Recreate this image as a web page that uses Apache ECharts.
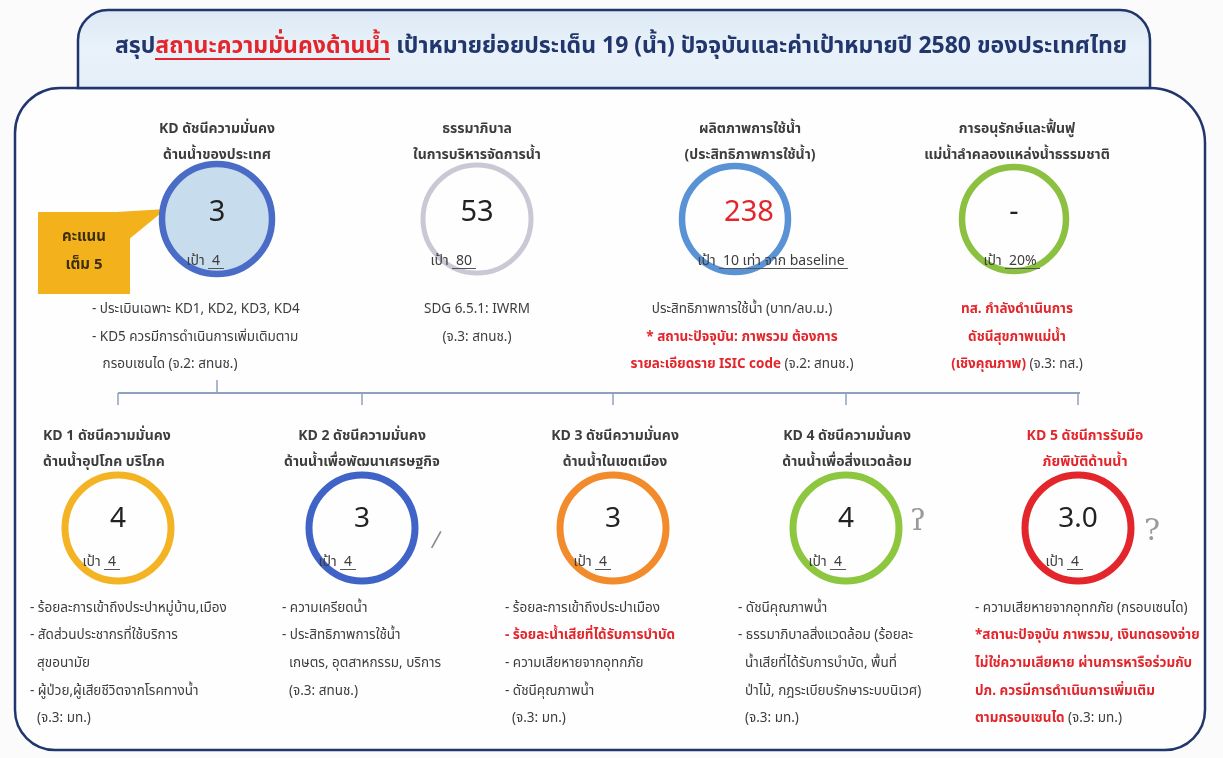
<!DOCTYPE html>
<html>
<head>
<meta charset="utf-8">
<script src="https://cdn.jsdelivr.net/npm/echarts@6/dist/echarts.min.js"></script>
<style>
  html, body { margin: 0; padding: 0; background: #fbfbfb; }
  #chart { width: 1223px; height: 758px; }
</style>
</head>
<body>
<div id="chart"></div>
<script>
// ข้อมูลแถวบน
const topTitles = [
  'KD ดัชนีความมั่นคง\nด้านน้ำของประเทศ',
  'ธรรมาภิบาล\nในการบริหารจัดการน้ำ',
  'ผลิตภาพการใช้น้ำ\n(ประสิทธิภาพการใช้น้ำ)',
  'การอนุรักษ์และฟื้นฟู\nแม่น้ำลำคลองแหล่งน้ำธรรมชาติ'
];
const topValues = ['3', '53', '238', '-'];
const topTargets = ['4', '80', '10 เท่า จาก baseline', '20%'];
const topNotes = [
  ['- ประเมินเฉพาะ KD1, KD2, KD3, KD4', '- KD5 ควรมีการดำเนินการเพิ่มเติมตาม', '   กรอบเซนได (จ.2: สทนช.)'],
  ['SDG 6.5.1: IWRM', '(จ.3: สทนช.)'],
  ['ประสิทธิภาพการใช้น้ำ (บาท/ลบ.ม.)', '{r|* สถานะปัจจุบัน: ภาพรวม ต้องการ}', '{r|รายละเอียดราย ISIC code} (จ.2: สทนช.)'],
  ['{r|ทส. กำลังดำเนินการ}', '{r|ดัชนีสุขภาพแม่น้ำ}', '{r|(เชิงคุณภาพ)} (จ.3: ทส.)']
];

// ข้อมูลแถวล่าง KD1-KD5
const kdTitles = [
  'KD 1 ดัชนีความมั่นคง\nด้านน้ำอุปโภค บริโภค',
  'KD 2 ดัชนีความมั่นคง\nด้านน้ำเพื่อพัฒนาเศรษฐกิจ',
  'KD 3 ดัชนีความมั่นคง\nด้านน้ำในเขตเมือง',
  'KD 4 ดัชนีความมั่นคง\nด้านน้ำเพื่อสิ่งแวดล้อม',
  'KD 5 ดัชนีการรับมือ\nภัยพิบัติด้านน้ำ'
];
const kdValues = ['4', '3', '3', '4', '3.0'];
const kdTargets = ['4', '4', '4', '4', '4'];
const kdNotes = [
  ['- ร้อยละการเข้าถึงประปาหมู่บ้าน,เมือง', '- สัดส่วนประชากรที่ใช้บริการ', '  สุขอนามัย', '- ผู้ป่วย,ผู้เสียชีวิตจากโรคทางน้ำ', '  (จ.3: มท.)'],
  ['- ความเครียดน้ำ', '- ประสิทธิภาพการใช้น้ำ', '  เกษตร, อุตสาหกรรม, บริการ', '  (จ.3: สทนช.)'],
  ['- ร้อยละการเข้าถึงประปาเมือง', '{r|- ร้อยละน้ำเสียที่ได้รับการบำบัด}', '- ความเสียหายจากอุทกภัย', '- ดัชนีคุณภาพน้ำ', '  (จ.3: มท.)'],
  ['- ดัชนีคุณภาพน้ำ', '- ธรรมาภิบาลสิ่งแวดล้อม (ร้อยละ', '  น้ำเสียที่ได้รับการบำบัด, พื้นที่', '  ป่าไม้, กฎระเบียบรักษาระบบนิเวศ)', '  (จ.3: มท.)'],
  ['- ความเสียหายจากอุทกภัย (กรอบเซนได)', '{r|*สถานะปัจจุบัน ภาพรวม, เงินทดรองจ่าย}', '{r|ไม่ใช่ความเสียหาย ผ่านการหารือร่วมกับ}', '{r|ปภ. ควรมีการดำเนินการเพิ่มเติม}', '{r|ตามกรอบเซนได} (จ.3: มท.)']
];

// ตำแหน่ง / สี
const FONT = "'Noto Sans Thai', Tahoma, 'Noto Sans', 'DejaVu Sans', sans-serif";
const GREY = '#3d3d3d';
const RED = '#e3262b';
const NAVY = '#22366e';
const topX = [217, 477, 735, 1014];
const topY = 219;
const topSize = [110, 108, 106, 104];
const topBorder = ['#4a6cc6', '#c9c8d4', '#5a92d6', '#8cc041'];
const topFill = ['#c7ddee', 'rgba(255,255,255,0)', 'rgba(255,255,255,0)', 'rgba(255,255,255,0)'];
const topValueColor = ['#222', '#222', RED, '#222'];
const topValueDx = [0, 0, 14, 0];
const topTargetDx = [-31, -47, -38, -31];
const kdX = [118, 362, 613, 846, 1078];
const kdY = 528;
const kdBorder = ['#f4b323', '#3f63c6', '#f28b2c', '#8dc63f', '#e3262b'];
const kdTargetDx = [-36, -44, -40, -38, -33];

const chart = echarts.init(document.getElementById('chart'));

// ภาพพื้นหลังสำหรับขีดเส้นใต้
function underline(color, h) {
  const c = document.createElement('canvas');
  c.width = 4; c.height = 40;
  const ctx = c.getContext('2d');
  ctx.fillStyle = color;
  ctx.fillRect(0, 40 - h, 4, h);
  return { image: c };
}

const noteRich = {
  r: { fill: RED, fontWeight: 'bold', fontSize: 13.5, lineHeight: 27.6, fontFamily: FONT }
};

function noteText(lines, x, y, align) {
  return {
    type: 'text', x: x, y: y, z: 10,
    style: {
      text: lines.join('\n'), fill: GREY, fontSize: 13.5, lineHeight: 27.6,
      fontFamily: FONT, align: align, verticalAlign: 'middle', rich: noteRich
    }
  };
}

function titleText(text, x, y, align, color) {
  return {
    type: 'text', x: x, y: y, z: 10,
    style: {
      text: text, fill: color, fontSize: 14, fontWeight: 'bold', lineHeight: 26,
      fontFamily: FONT, align: align, verticalAlign: 'middle'
    }
  };
}

const graphics = [
  // กรอบหลัก
  { type: 'rect', z: 1, shape: { x: 15, y: 88, width: 1190, height: 662, r: [45, 55, 40, 40] },
    style: { fill: '#fefefe', stroke: NAVY, lineWidth: 2.5 } },
  // แถบหัวเรื่อง
  { type: 'rect', z: 2, shape: { x: 78, y: 10, width: 1072, height: 78, r: [30, 30, 0, 0] },
    style: {
      fill: new echarts.graphic.LinearGradient(0, 0, 0, 1, [
        { offset: 0, color: '#dbe8f4' }, { offset: 0.5, color: '#e9f2fa' }, { offset: 1, color: '#e4eef8' }
      ]),
      stroke: NAVY, lineWidth: 2.5
    } },
  { type: 'text', z: 10, x: 621, y: 48,
    style: {
      text: '{n|สรุป}{u|สถานะความมั่นคงด้านน้ำ}{n| เป้าหมายย่อยประเด็น 19 (น้ำ) ปัจจุบันและค่าเป้าหมายปี 2580 ของประเทศไทย}',
      align: 'center', verticalAlign: 'middle',
      rich: {
        n: { fill: NAVY, fontSize: 23, fontWeight: 'bold', fontFamily: FONT, lineHeight: 34 },
        u: { fill: RED, fontSize: 23, fontWeight: 'bold', fontFamily: FONT, lineHeight: 34,
             backgroundColor: underline(RED, 3) }
      }
    } },
  // เส้นเชื่อม
  { type: 'polyline', z: 5, shape: { points: [[118, 393], [1080, 393]] }, style: { stroke: '#8ea2c0', lineWidth: 2 } },
  { type: 'polyline', z: 5, shape: { points: [[217, 380], [217, 393]] }, style: { stroke: '#8ea2c0', lineWidth: 1.5 } },
  // กล่อง คะแนนเต็ม 5
  { type: 'polygon', z: 6, shape: { points: [[100, 213], [128, 240], [166, 209]] }, style: { fill: '#f3b21b' } },
  { type: 'rect', z: 6, shape: { x: 38, y: 212, width: 92, height: 82 }, style: { fill: '#f3b21b' } },
  { type: 'text', z: 10, x: 84, y: 252,
    style: { text: 'คะแนน\nเต็ม 5', fill: '#3a2e0c', fontSize: 15, fontWeight: 'bold', lineHeight: 28,
             fontFamily: FONT, align: 'center', verticalAlign: 'middle' } },
  // เครื่องหมายเขียนมือ
  { type: 'text', z: 10, x: 436, y: 541, rotation: -0.2,
    style: { text: '/', fill: '#8a8a8a', fontSize: 22, fontFamily: 'DejaVu Serif', align: 'center', verticalAlign: 'middle' } },
  { type: 'text', z: 10, x: 918, y: 522,
    style: { text: 'ʔ', fill: '#9a9a9a', fontSize: 30, fontFamily: 'DejaVu Serif', align: 'center', verticalAlign: 'middle' } },
  { type: 'text', z: 10, x: 1152, y: 532,
    style: { text: '?', fill: '#9a9a9a', fontSize: 30, fontFamily: 'DejaVu Serif', align: 'center', verticalAlign: 'middle' } }
];

kdX.forEach(function (x) {
  graphics.push({ type: 'polyline', z: 5, shape: { points: [[x, 393], [x, 405]] }, style: { stroke: '#8ea2c0', lineWidth: 1.5 } });
});

// หัวข้อแถวบน
const topTitleX = [217, 477, 750, 1017];
topTitles.forEach(function (t, i) { graphics.push(titleText(t, topTitleX[i], 143, 'center', GREY)); });
// หัวข้อแถวล่าง
const kdTitleX = [43, 362, 615, 847, 1085];
kdTitles.forEach(function (t, i) {
  graphics.push(titleText(t, kdTitleX[i], 450, i === 0 ? 'left' : 'center', i === 4 ? RED : GREY));
});
// หมายเหตุแถวบน
graphics.push(noteText(topNotes[0], 92, 338, 'left'));
graphics.push(noteText(topNotes[1], 477, 324.5, 'center'));
graphics.push(noteText(topNotes[2], 742, 338, 'center'));
graphics.push(noteText(topNotes[3], 1017, 338, 'center'));
// หมายเหตุแถวล่าง
const kdNoteX = [30, 282, 505, 738, 975];
kdNotes.forEach(function (lines, i) {
  graphics.push(noteText(lines, kdNoteX[i], 609 + (lines.length - 1) * 27.6 / 2, 'left'));
});

const targetRich = {
  t: { color: GREY, fontSize: 14, fontFamily: FONT, lineHeight: 20 },
  u: { color: GREY, fontSize: 14, fontFamily: FONT, lineHeight: 20, backgroundColor: underline('#555', 2) }
};

chart.setOption({
  animation: false,
  backgroundColor: '#fbfbfb',
  grid: { left: 0, right: 0, top: 0, bottom: 0 },
  xAxis: { type: 'value', min: 0, max: 1223, show: false },
  yAxis: { type: 'value', min: 0, max: 758, inverse: true, show: false },
  graphic: graphics,
  series: [
    {
      name: 'top', type: 'scatter', z: 8, symbol: 'circle',
      data: topValues.map(function (v, i) {
        return {
          name: v, value: [topX[i], topY], symbolSize: topSize[i],
          itemStyle: { color: topFill[i], borderColor: topBorder[i], borderWidth: i === 1 ? 5 : 6.5, opacity: 1 },
          label: { color: topValueColor[i], offset: [topValueDx[i], -4] }
        };
      }),
      label: { show: true, position: 'inside', formatter: '{b}', fontSize: 29, fontFamily: FONT }
    },
    {
      name: 'topTarget', type: 'scatter', z: 9, symbolSize: 1, itemStyle: { color: 'rgba(0,0,0,0)', opacity: 1 },
      data: topTargets.map(function (t, i) {
        return { name: t, value: [topX[i] + topTargetDx[i], topY + 43] };
      }),
      label: { show: true, position: 'right', distance: 0, formatter: function (p) {
        return '{t|เป้า }{u| ' + p.name + ' }';
      }, rich: targetRich }
    },
    {
      name: 'kd', type: 'scatter', z: 8, symbol: 'circle', symbolSize: 106,
      data: kdValues.map(function (v, i) {
        return { name: v, value: [kdX[i], kdY], itemStyle: { borderColor: kdBorder[i] } };
      }),
      itemStyle: { color: 'rgba(255,255,255,0)', borderWidth: 7, opacity: 1 },
      label: { show: true, position: 'inside', formatter: '{b}', fontSize: 28, color: '#222', fontFamily: FONT, offset: [0, -7] }
    },
    {
      name: 'kdTarget', type: 'scatter', z: 9, symbolSize: 1, itemStyle: { color: 'rgba(0,0,0,0)', opacity: 1 },
      data: kdTargets.map(function (t, i) {
        return { name: t, value: [kdX[i] + kdTargetDx[i], kdY + 35] };
      }),
      label: { show: true, position: 'right', distance: 0, formatter: function (p) {
        return '{t|เป้า }{u| ' + p.name + ' }';
      }, rich: targetRich }
    }
  ]
});
</script>
</body>
</html>
